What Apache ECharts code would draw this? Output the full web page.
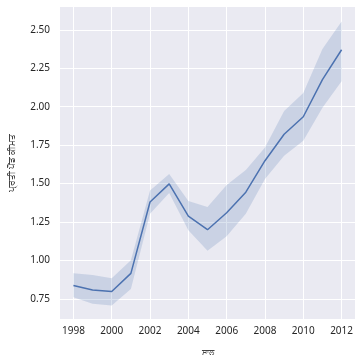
<!DOCTYPE html>
<html>
<head>
<meta charset="utf-8">
<script src="https://cdn.jsdelivr.net/npm/echarts@6/dist/echarts.min.js"></script>
<style>html,body{margin:0;padding:0;background:#fff}#c{width:362px;height:362px}</style>
</head>
<body>
<div id="c"></div>
<script>
const years = [1998,1999,2000,2001,2002,2003,2004,2005,2006,2007,2008,2009,2010,2011,2012];
const meanPrice = [0.837,0.808,0.798,0.916,1.38,1.498,1.289,1.20,1.310,1.444,1.649,1.821,1.935,2.177,2.371];
const lowerCI  = [0.761,0.718,0.707,0.815,1.304,1.438,1.196,1.063,1.157,1.304,1.530,1.681,1.778,1.994,2.166];
const upperCI  = [0.916,0.905,0.884,1.002,1.455,1.562,1.386,1.347,1.491,1.588,1.735,1.972,2.09,2.375,2.554];
const xTicks = [1998,2000,2002,2004,2006,2008,2010,2012];
const yTicks = [0.75,1.00,1.25,1.50,1.75,2.00,2.25,2.50];
const xName = 'ਸਾਲ';
const yName = 'ਪ੍ਰਤੀ ਪੌਂਡ ਕੀਮਤ';

const lineColor = '#4c72b0';
const font = 'Noto Sans, DejaVu Sans, sans-serif';
const chart = echarts.init(document.getElementById('c'));
chart.setOption({
  animation: false,
  grid: {left: 53, right: 7, top: 7, bottom: 41, show: true, backgroundColor: '#eaeaf2', borderWidth: 0},
  xAxis: {
    type: 'value', min: 1997.3, max: 2012.7,
    name: xName, nameLocation: 'middle', nameGap: 30,
    nameTextStyle: {color: '#444', fontSize: 8, fontFamily: font},
    axisLine: {show: false}, axisTick: {show: false, customValues: xTicks},
    axisLabel: {customValues: xTicks, color: '#262626', fontSize: 10, fontFamily: font, margin: 7,
      formatter: v => String(v)},
    splitLine: {show: true, lineStyle: {color: '#fff', width: 1}}
  },
  yAxis: {
    type: 'value', min: 0.619, max: 2.649,
    name: yName, nameLocation: 'middle', nameGap: 43, nameRotate: 90,
    nameTextStyle: {color: '#444', fontSize: 9, fontFamily: font},
    axisLine: {show: false}, axisTick: {show: false, customValues: yTicks},
    axisLabel: {customValues: yTicks, color: '#262626', fontSize: 10, fontFamily: font, margin: 10,
      formatter: v => v.toFixed(2)},
    splitLine: {show: true, lineStyle: {color: '#fff', width: 1}}
  },
  series: [
    {type: 'custom', silent: true, clip: true,
     data: years.map((y,i)=>[y, lowerCI[i], upperCI[i]]),
     encode: {x: 0, y: [1,2]},
     renderItem: function(params, api) {
       if (params.dataIndex !== 0) return null;
       const top = years.map((y,i)=>api.coord([y, upperCI[i]]));
       const bot = years.map((y,i)=>api.coord([y, lowerCI[i]])).reverse();
       return {type: 'polygon', shape: {points: top.concat(bot)},
               style: {fill: lineColor, opacity: 0.2}};
     }},
    {type: 'line', data: years.map((y,i)=>[y, meanPrice[i]]), symbol: 'none',
     lineStyle: {color: lineColor, width: 1.5}, z: 3}
  ]
});
</script>
</body>
</html>
